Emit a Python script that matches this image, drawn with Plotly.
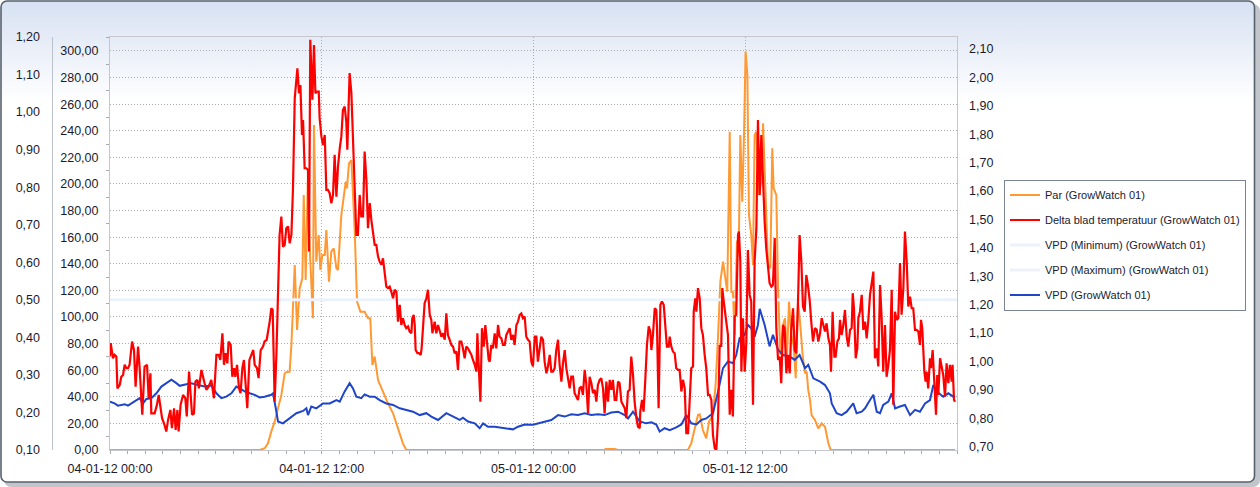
import base64
import pandas as pd
import plotly.graph_objects as go

START = pd.Timestamp("2012-01-04 00:00")
END = pd.Timestamp("2012-01-06 00:00")

# ---------------- data (hours after 04-01-12 00:00) ----------------
par_hours = [0.00, 8.48, 8.77, 8.95, 9.14, 9.33, 9.52, 9.71, 9.80, 9.90, 9.96, 10.18, 10.28, 10.47, 10.60,
             10.75, 10.90, 10.98, 11.09, 11.22, 11.32, 11.41, 11.50, 11.56, 11.69, 11.83, 11.92, 12.03,
             12.17, 12.26, 12.41, 12.54, 12.68, 12.83, 12.92, 13.11, 13.24, 13.36, 13.43, 13.54, 13.68,
             13.87, 14.00, 14.19, 14.43, 14.62, 14.75, 14.87, 15.00, 15.19, 15.47, 15.75, 16.04, 16.32,
             16.60, 16.79, 28.00, 28.10, 28.60, 28.80, 32.75, 32.94, 33.13, 33.32, 33.42, 33.60, 33.79,
             33.95, 34.17, 34.32, 34.46, 34.59, 34.74, 34.89, 34.98, 35.12, 35.21, 35.30, 35.40, 35.53,
             35.64, 35.72, 35.83, 35.93, 36.02, 36.12, 36.21, 36.34, 36.44, 36.53, 36.63, 36.78, 36.91,
             37.01, 37.16, 37.29, 37.42, 37.53, 37.61, 37.76, 37.86, 37.99, 38.14, 38.25, 38.37, 38.48,
             38.61, 38.74, 38.86, 38.99, 39.12, 39.25, 39.39, 39.48, 39.57, 39.67, 39.76, 39.95, 40.14,
             40.33, 40.52, 40.71, 40.84, 47.89]
par_values = [0, 0, 1.3, 5.0, 13.8, 21.3, 31.3, 41.4, 48.9, 57.6, 58.4, 58.9, 78.9, 139.1, 90.2,
              121.5, 129.1, 191.7, 127.8, 209.3, 151.6, 126.6, 99.0, 244.3, 141.6, 161.6, 135.3, 146.6,
              146.6, 165.4, 126.6, 149.1, 151.6, 136.6, 135.3, 176.7, 191.7, 201.7, 196.7, 215.5, 218.0,
              164.1, 111.5, 104.0, 104.0, 99.0, 99.0, 63.9, 70.2, 52.6, 43.9, 35.1, 27.6, 16.3,
              5.0, 0, 0, 0.7, 0.7, 0, 0, 5.0, 16.3, 26.3, 26.8, 15.0, 8.8,
              21.3, 26.3, 48.9, 86.5, 126.6, 141.6, 129.1, 119.0, 239.3, 119.0, 119.0, 86.5, 156.6,
              159.1, 236.8, 186.7, 236.8, 299.5, 281.9, 176.7, 161.6, 139.1, 236.8, 239.3, 191.7, 201.7,
              245.6, 186.7, 139.1, 136.6, 226.8, 196.7, 191.7, 121.5, 71.4, 94.0, 99.0, 71.4, 111.5,
              86.5, 78.9, 53.9, 111.5, 94.0, 71.4, 57.6, 58.9, 45.1, 37.6, 26.3, 22.6, 16.3,
              20.0, 17.5, 5.0, 0, 0]

delta_hours = [0.00, 0.04, 0.17, 0.26, 0.36, 0.42, 0.55, 0.64, 0.74, 0.83, 0.93, 1.02, 1.11, 1.25, 1.36,
               1.45, 1.59, 1.68, 1.83, 1.96, 2.10, 2.19, 2.29, 2.34, 2.53, 2.66, 2.76, 2.87, 2.95, 3.06,
               3.19, 3.29, 3.42, 3.51, 3.63, 3.72, 3.82, 3.89, 4.00, 4.14, 4.27, 4.35, 4.48, 4.57, 4.65,
               4.76, 4.84, 4.95, 5.04, 5.18, 5.27, 5.36, 5.46, 5.59, 5.74, 5.89, 6.03, 6.16, 6.25, 6.37,
               6.46, 6.55, 6.65, 6.72, 6.84, 6.93, 7.03, 7.10, 7.20, 7.31, 7.40, 7.50, 7.59, 7.67, 7.78,
               7.90, 8.01, 8.12, 8.20, 8.33, 8.42, 8.54, 8.67, 8.76, 8.88, 8.95, 9.05, 9.14, 9.22, 9.27,
               9.33, 9.43, 9.52, 9.61, 9.71, 9.80,
               9.90, 9.99, 10.09, 10.18, 10.28, 10.37, 10.47, 10.56, 10.62, 10.71, 10.79, 10.88, 10.94,
               11.03, 11.13, 11.22, 11.28, 11.35, 11.47, 11.56, 11.64, 11.73, 11.83, 11.88, 11.98, 12.07,
               12.17, 12.26, 12.35, 12.45, 12.54, 12.64, 12.73, 12.83, 12.92, 13.02, 13.11, 13.20, 13.30,
               13.39, 13.45, 13.53, 13.58, 13.68, 13.77, 13.87, 13.96, 14.05, 14.15, 14.24, 14.34, 14.43,
               14.53, 14.62, 14.72, 14.81, 14.90, 15.00, 15.09, 15.19, 15.28, 15.38, 15.47, 15.57, 15.66,
               15.75, 15.85, 15.94, 16.04, 16.13, 16.23, 16.32, 16.42, 16.51, 16.60, 16.70, 16.79, 16.89,
               16.98, 17.08, 17.13, 17.21, 17.27, 17.32, 17.42, 17.51, 17.61, 17.66, 17.74, 17.83, 17.93,
               18.02, 18.12, 18.21, 18.27, 18.34, 18.40, 18.49, 18.59, 18.64, 18.78, 18.87, 18.97, 19.06,
               19.15, 19.25, 19.34, 19.44, 19.53, 19.63, 19.72, 19.81, 19.91, 20.00,
               20.10, 20.19, 20.29, 20.38, 20.48, 20.57, 20.67, 20.76, 20.82, 20.89, 20.99, 21.08, 21.18,
               21.27, 21.36, 21.46, 21.52, 21.61, 21.70, 21.80, 21.89, 21.99, 22.08, 22.18, 22.27, 22.37,
               22.46, 22.55, 22.65, 22.74, 22.84, 22.93, 23.03, 23.12, 23.22, 23.31, 23.40, 23.50, 23.59,
               23.69, 23.78, 23.88, 23.97, 24.07, 24.16, 24.25, 24.35, 24.44, 24.54, 24.63, 24.73, 24.82,
               24.92, 25.01, 25.10, 25.20, 25.29, 25.39, 25.48, 25.58, 25.67, 25.77, 25.86, 25.95, 26.05,
               26.14, 26.24, 26.33, 26.43, 26.52, 26.61, 26.71, 26.80, 26.90, 26.99, 27.09, 27.18, 27.28,
               27.37, 27.47, 27.56, 27.65, 27.75, 27.84, 27.94, 28.03, 28.13, 28.22, 28.32, 28.41, 28.50,
               28.60, 28.69, 28.79, 28.88, 28.98, 29.07, 29.17, 29.26, 29.35, 29.45, 29.54, 29.64, 29.73,
               29.83,
               29.92, 30.02, 30.05, 30.15, 30.24, 30.34, 30.43, 30.53, 30.62, 30.68, 30.77, 30.87, 30.96,
               31.00, 31.09, 31.19, 31.28, 31.38, 31.47, 31.56, 31.66, 31.72, 31.81, 31.90, 32.00, 32.09,
               32.19, 32.28, 32.38, 32.47, 32.57, 32.66, 32.76, 32.85, 32.94, 33.04, 33.08, 33.17, 33.23,
               33.32, 33.42, 33.51, 33.60, 33.70, 33.79, 33.89, 33.98, 34.08, 34.17, 34.27, 34.36, 34.46,
               34.55, 34.64, 34.70, 34.78, 34.83, 34.93, 35.02, 35.12, 35.21, 35.30, 35.40, 35.49, 35.59,
               35.64, 35.72, 35.78, 35.87, 35.97, 36.06, 36.15, 36.25, 36.34, 36.44, 36.53, 36.63, 36.72,
               36.82, 36.91, 37.01, 37.10, 37.19, 37.29, 37.38, 37.48, 37.57, 37.67, 37.76, 37.86, 37.95,
               38.04, 38.14, 38.23, 38.33, 38.42, 38.52, 38.61, 38.71, 38.80, 38.89, 38.99, 39.08, 39.18,
               39.27, 39.37, 39.46, 39.55, 39.65, 39.74, 39.84,
               39.95, 40.05, 40.14, 40.24, 40.33, 40.42, 40.52, 40.61, 40.71, 40.80, 40.86, 40.95, 41.05,
               41.12, 41.22, 41.31, 41.37, 41.46, 41.56, 41.65, 41.75, 41.84, 41.94, 42.03, 42.09, 42.16,
               42.26, 42.35, 42.41, 42.50, 42.60, 42.69, 42.79, 42.88, 42.97, 43.07, 43.16, 43.26, 43.35,
               43.45, 43.54, 43.64, 43.73, 43.82, 43.92, 44.01, 44.11, 44.20, 44.30, 44.39, 44.49, 44.58,
               44.67, 44.77, 44.86, 44.96, 45.05, 45.15, 45.24, 45.34, 45.43, 45.52, 45.62, 45.71, 45.81,
               45.90, 45.96, 46.03, 46.15, 46.22, 46.28, 46.37, 46.47, 46.53, 46.62, 46.71, 46.81, 46.88,
               46.94, 47.04, 47.13, 47.22, 47.32, 47.41, 47.51, 47.60, 47.70, 47.75, 47.83, 47.89]
delta_values = [1.017, 1.064, 1.011, 1.023, 1.017, 0.905, 0.917, 0.946, 0.952, 0.988, 0.976, 0.976, 0.988, 1.070, 1.040,
                0.911, 1.052, 0.976, 0.812, 0.982, 0.988, 0.870, 0.958, 0.817, 0.817, 0.847, 0.882, 0.823, 0.800, 0.782,
                0.753, 0.794, 0.829, 0.765, 0.835, 0.759, 0.829, 0.753, 0.847, 0.882, 0.870, 0.806, 0.964, 0.882, 0.812,
                0.817, 0.929, 0.935, 0.905, 0.970, 0.941, 0.923, 0.900, 0.911, 0.935, 0.870, 1.023, 1.023, 1.005, 1.099,
                0.988, 1.029, 0.993, 1.070, 1.058, 0.946, 0.976, 0.946, 0.988, 0.905, 0.888, 0.976, 1.005, 0.929, 0.835,
                1.005, 1.023, 1.040, 0.988, 0.976, 0.941, 1.040, 1.052, 1.070, 1.076, 1.099, 1.140, 1.187, 1.181, 1.035,
                0.858, 1.023, 1.234, 1.445, 1.510, 1.404,
                1.410, 1.469, 1.475, 1.416, 1.445, 1.610, 1.927, 1.985, 2.032, 1.944, 1.973, 1.797, 1.850,
                1.680, 1.680, 1.674, 1.387, 2.132, 1.921, 2.114, 1.944, 1.950, 1.950, 1.856, 1.792, 1.762,
                1.797, 1.604, 1.604, 1.592, 1.557, 1.586, 1.727, 1.580, 1.686, 1.750, 1.792, 1.885, 1.897,
                1.844, 1.745, 1.915, 2.015, 1.944, 1.762, 1.645, 1.445, 1.445, 1.586, 1.510, 1.510, 1.739,
                1.639, 1.469, 1.557, 1.498, 1.445, 1.410, 1.410, 1.369, 1.351, 1.340, 1.363, 1.316, 1.263,
                1.258, 1.263, 1.246, 1.222, 1.252, 1.246, 1.140, 1.199, 1.128, 1.152, 1.128, 1.117, 1.123,
                1.105, 1.099, 1.152, 1.164, 1.128, 1.040, 1.029, 1.029, 1.023, 1.046, 1.128, 1.205, 1.222,
                1.252, 1.164, 1.146, 1.099, 1.128, 1.140, 1.099, 1.128, 1.117, 1.087, 1.099, 1.076, 1.169,
                1.093, 1.076, 1.058, 1.052, 1.029, 1.035, 0.970, 1.070, 1.070, 1.046,
                1.011, 1.052, 1.046, 1.035, 1.023, 1.005, 0.988, 0.964, 1.099, 0.993, 0.858, 1.117, 1.052,
                1.128, 1.058, 1.005, 0.999, 1.058, 1.046, 1.099, 1.046, 1.128, 1.087, 1.081, 1.058, 1.058,
                1.093, 1.105, 1.117, 1.076, 1.093, 1.058, 1.128, 1.140, 1.164, 1.169, 1.152, 1.158, 1.087,
                1.076, 1.070, 0.999, 0.982, 1.087, 1.087, 0.999, 1.040, 1.087, 1.076, 0.999, 0.958, 0.982,
                1.023, 0.964, 0.964, 0.976, 1.040, 1.076, 0.988, 0.929, 0.993, 1.040, 0.976, 0.941, 0.905,
                0.946, 0.946, 0.888, 0.876, 0.864, 0.905, 0.911, 0.882, 0.970, 0.923, 0.817, 0.946, 0.923,
                0.888, 0.900, 0.858, 0.917, 0.935, 0.941, 0.905, 0.817, 0.929, 0.858, 0.935, 0.900, 0.935,
                0.864, 0.864, 0.929, 0.923, 0.858, 0.847, 0.835, 0.800, 0.894, 0.900, 1.017, 0.952, 0.858,
                0.800,
                0.770, 0.765, 0.823, 0.864, 0.823, 0.941, 1.058, 1.123, 1.105, 1.040, 1.093, 1.187, 1.181,
                1.117, 0.835, 1.199, 1.211, 1.199, 1.117, 1.052, 1.052, 1.087, 1.052, 1.035, 1.029, 0.976,
                0.970, 0.970, 0.894, 0.935, 0.905, 0.747, 0.747, 0.864, 0.976, 0.982, 1.175, 1.222, 1.175,
                1.258, 1.222, 1.117, 1.093, 1.023, 0.976, 0.882, 0.882, 0.864, 0.741, 0.694, 0.688, 0.800,
                1.058, 1.052, 1.258, 1.211, 1.187, 1.140, 1.093, 0.812, 0.900, 0.806, 1.158, 1.164, 1.445,
                1.457, 1.351, 0.964, 1.152, 0.964, 1.064, 1.392, 1.234, 1.211, 0.847, 1.351, 1.469, 1.850,
                1.586, 1.797, 1.610, 1.492, 1.398, 1.340, 1.275, 1.263, 1.269, 1.434, 1.117, 1.005, 1.017,
                0.923, 1.128, 1.117, 0.958, 1.023, 0.958, 1.117, 1.187, 1.040, 1.029, 1.211, 1.445, 1.351,
                1.193, 1.175, 1.304, 1.269, 1.216, 1.140, 1.070,
                1.117, 1.111, 1.070, 1.099, 1.152, 1.134, 1.105, 1.134, 1.081, 1.058, 0.964, 1.175, 1.017,
                1.017, 1.070, 1.081, 1.146, 1.093, 1.128, 1.181, 1.087, 1.052, 1.111, 1.117, 1.240, 1.187,
                1.011, 1.046, 1.152, 1.175, 1.234, 1.111, 1.140, 1.081, 1.140, 1.234, 1.269, 1.316, 1.011,
                1.046, 0.982, 1.269, 1.152, 0.964, 1.128, 0.946, 0.988, 1.040, 1.252, 0.847, 1.175, 1.146,
                1.152, 1.346, 1.164, 1.258, 1.457, 1.351, 1.193, 1.228, 1.187, 1.187, 1.111, 1.111, 1.105,
                1.058, 1.146, 1.117, 0.964, 0.929, 0.964, 0.905, 1.011, 0.976, 1.040, 0.935, 0.812, 0.952,
                0.882, 1.011, 0.976, 0.952, 0.876, 0.993, 0.923, 0.988, 0.929, 0.988, 0.864, 0.858]

vpd_hours = [0.00, 0.26, 0.45, 0.83, 1.02, 1.40, 1.68, 1.87, 2.06, 2.34, 2.63, 2.91, 3.19, 3.48, 3.76,
             3.95, 4.33, 4.61, 4.99, 5.36, 5.74, 6.03, 6.31, 6.59, 6.88, 7.16, 7.35, 7.63, 7.92, 8.20,
             8.48, 8.76, 9.14, 9.24, 9.43, 9.52, 9.80,
             10.18, 10.56, 10.94, 11.13, 11.22, 11.41, 11.69, 12.07, 12.45, 12.83, 13.02, 13.30, 13.58,
             13.77, 13.96, 14.24, 14.43, 14.72, 15.00, 15.28, 15.66, 16.04, 16.42, 16.79, 17.17, 17.55,
             17.93, 18.21, 18.59, 19.06, 19.44, 19.82,
             20.00, 20.29, 20.67, 20.95, 21.14, 21.42, 21.80, 22.18, 22.55, 22.84, 23.12, 23.50, 23.97,
             24.25, 24.63, 25.01, 25.39, 25.77, 26.14, 26.52, 26.90, 27.28, 27.65, 28.03, 28.41, 28.79,
             29.17, 29.36, 29.64,
             30.02, 30.39, 30.68, 30.96, 31.15, 31.43, 31.72, 32.09, 32.38, 32.66, 32.94, 33.23, 33.51,
             33.79, 34.17, 34.46, 34.74, 35.02, 35.30, 35.49, 35.68, 35.97, 36.15, 36.34, 36.53, 36.72,
             36.82, 37.10, 37.38, 37.57, 37.86, 38.14, 38.52, 38.80, 39.08,
             39.39, 39.57, 39.86, 40.24, 40.52, 40.80, 40.90, 41.18, 41.46, 41.75, 42.12, 42.31, 42.60,
             42.79, 43.07, 43.26, 43.45, 43.64, 43.82, 44.11, 44.30, 44.49, 44.77, 45.05, 45.34, 45.62,
             45.90, 46.19, 46.47, 46.66, 46.85, 47.22, 47.51, 47.79, 47.89]
vpd_values = [0.229, 0.224, 0.218, 0.222, 0.218, 0.229, 0.238, 0.224, 0.236, 0.238, 0.251, 0.269, 0.278, 0.287, 0.278,
              0.271, 0.275, 0.278, 0.273, 0.269, 0.272, 0.251, 0.238, 0.242, 0.251, 0.269, 0.264, 0.256, 0.251, 0.247,
              0.240, 0.242, 0.247, 0.251, 0.202, 0.176, 0.171,
              0.184, 0.198, 0.204, 0.211, 0.193, 0.216, 0.211, 0.224, 0.224, 0.233, 0.229, 0.256, 0.278,
              0.264, 0.242, 0.238, 0.248, 0.242, 0.242, 0.233, 0.224, 0.220, 0.211, 0.207, 0.202, 0.193,
              0.198, 0.189, 0.180, 0.198, 0.189, 0.180,
              0.186, 0.176, 0.171, 0.158, 0.171, 0.162, 0.162, 0.160, 0.158, 0.155, 0.162, 0.168, 0.167,
              0.171, 0.176, 0.180, 0.193, 0.189, 0.195, 0.193, 0.198, 0.193, 0.195, 0.193, 0.200, 0.202,
              0.193, 0.184, 0.202,
              0.176, 0.171, 0.174, 0.168, 0.149, 0.158, 0.153, 0.160, 0.168, 0.193, 0.171, 0.168, 0.180,
              0.184, 0.198, 0.256, 0.318, 0.336, 0.331, 0.353, 0.398, 0.407, 0.433, 0.424, 0.402, 0.433,
              0.476, 0.433, 0.376, 0.407, 0.367, 0.353, 0.349, 0.340, 0.353,
              0.318, 0.327, 0.291, 0.282, 0.273, 0.251, 0.224, 0.198, 0.193, 0.202, 0.224, 0.198, 0.202,
              0.211, 0.233, 0.247, 0.202, 0.198, 0.220, 0.229, 0.251, 0.211, 0.216, 0.220, 0.193, 0.207,
              0.202, 0.224, 0.233, 0.273, 0.256, 0.242, 0.251, 0.242, 0.242]

vpd_min_value = 0.50
vpd_max_value = 1.30

x_tick_times = ["2012-01-04 00:00", "2012-01-04 12:00", "2012-01-05 00:00", "2012-01-05 12:00"]

series_names = ["Par (GrowWatch 01)", "Delta blad temperatuur (GrowWatch 01)",
                "VPD (Minimum) (GrowWatch 01)", "VPD (Maximum) (GrowWatch 01)", "VPD (GrowWatch 01)"]


def to_times(hours):
    return [START + pd.Timedelta(hours=h) for h in hours]


# ---------------- layout geometry ----------------
W, H = 1260, 487
ML, MR, MT, MB = 20, 303, 37, 37
PW = W - ML - MR          # paper width in px
PH = H - MT - MB          # paper height in px
X_DOMAIN0 = (110 - ML) / PW
OUTER_POS = (51.5 - ML) / PW

FONT = "Liberation Sans, Arial, sans-serif"
TXT = "#1a1a2e"
GRID = "#acacac"
GRID_DASH = "1px,2px"
FRAME = "#c4c8ce"

# background: rounded panel, vertical blue->white gradient, drop shadow
svg = (
    "<svg xmlns='http://www.w3.org/2000/svg' width='1260' height='487' viewBox='0 0 1260 487'>"
    "<defs><linearGradient id='g' x1='0' y1='0' x2='0' y2='1'>"
    "<stop offset='0' stop-color='#d7e1f2'/><stop offset='0.21' stop-color='#ffffff'/>"
    "<stop offset='1' stop-color='#ffffff'/></linearGradient></defs>"
    "<rect x='4' y='4' width='1256' height='483' rx='7' fill='#c2c5ca'/>"
    "<rect x='1' y='1' width='1253.5' height='481' rx='6' fill='url(#g)' stroke='#56616e' stroke-width='1.6'/>"
    "</svg>"
)
bg_src = "data:image/svg+xml;base64," + base64.b64encode(svg.encode()).decode()

fig = go.Figure()

fig.add_trace(go.Scatter(
    x=to_times(par_hours), y=par_values, name=series_names[0], mode="lines",
    line=dict(color="#ff9933", width=2), yaxis="y", legendgroup="a"))
fig.add_trace(go.Scatter(
    x=to_times(delta_hours), y=delta_values, name=series_names[1], mode="lines",
    line=dict(color="#ff0000", width=2.2), yaxis="y3", legendgroup="b"))
fig.add_trace(go.Scatter(
    x=[START, END], y=[vpd_min_value, vpd_min_value], name=series_names[2], mode="lines",
    line=dict(color="#ecf2fb", width=3), yaxis="y2", legendgroup="c"))
fig.add_trace(go.Scatter(
    x=[START, END], y=[vpd_max_value, vpd_max_value], name=series_names[3], mode="lines",
    line=dict(color="#eef2f8", width=3), yaxis="y2", legendgroup="d"))
fig.add_trace(go.Scatter(
    x=to_times(vpd_hours), y=vpd_values, name=series_names[4], mode="lines",
    line=dict(color="#1f45c8", width=2), yaxis="y2", legendgroup="e"))

tick_font = dict(family=FONT, size=12.5, color=TXT)

fig.update_layout(
    width=W, height=H,
    margin=dict(l=ML, r=MR, t=MT, b=MB, autoexpand=False),
    paper_bgcolor="white",
    plot_bgcolor="rgba(0,0,0,0)",
    separators=",.",
    showlegend=True,
    hovermode=False,
    font=dict(family=FONT, color=TXT),
    images=[dict(source=bg_src, xref="paper", yref="paper",
                 x=-ML / PW, y=1 + MT / PH, sizex=W / PW, sizey=H / PH,
                 xanchor="left", yanchor="top", sizing="stretch", layer="below")],
    xaxis=dict(
        domain=[X_DOMAIN0, 1], type="date",
        range=[START, END],
        tickmode="array", tickvals=x_tick_times, tickformat="%d-%m-%y %H:%M",
        tickfont=tick_font, ticks="outside", ticklen=3, tickcolor="#a7abb1",
        ticklabelstandoff=4,
        showgrid=True, gridcolor=GRID, griddash=GRID_DASH, gridwidth=1,
        minor=dict(ticks="outside", ticklen=3, tickcolor="#a7abb1",
                   tickmode="linear", tick0="2012-01-04", dtick=3600000, showgrid=False),
        showline=True, linecolor=FRAME, linewidth=1, mirror=True,
        zeroline=False, automargin=False,
    ),
    yaxis=dict(
        range=[0, 310.5], tickmode="linear", tick0=0, dtick=20, tickformat=".2f",
        tickfont=tick_font, ticks="", ticklabelstandoff=8,
        minor=dict(ticks="outside", ticklen=3, tickcolor="#a7abb1", dtick=10, showgrid=False),
        showgrid=True, gridcolor=GRID, griddash=GRID_DASH, gridwidth=1,
        showline=True, linecolor=FRAME, linewidth=1, mirror=True,
        zeroline=False, automargin=False,
    ),
    yaxis2=dict(
        overlaying="y", anchor="free", position=OUTER_POS, side="left",
        range=[0.10, 1.20], tickmode="linear", tick0=0.1, dtick=0.1, tickformat=".2f",
        tickfont=tick_font, ticks="", ticklabelstandoff=9,
        showgrid=False, showline=True, linecolor="#bcc2ca", linewidth=1,
        zeroline=False, automargin=False,
    ),
    yaxis3=dict(
        overlaying="y", anchor="x", side="right",
        range=[0.688, 2.142], tickmode="linear", tick0=0.7, dtick=0.1, tickformat=".2f",
        tickfont=tick_font, ticks="", ticklabelstandoff=11,
        showgrid=False, showline=False, zeroline=False, automargin=False,
    ),
    legend=dict(
        x=(1004 - ML) / PW, y=(450 - 179.5) / PH, xanchor="left", yanchor="top",
        bgcolor="white", bordercolor="#7b8591", borderwidth=1,
        font=dict(family=FONT, size=11, color=TXT),
        tracegroupgap=6, itemclick=False, itemdoubleclick=False,
    ),
)

fig.write_html("out.html")
